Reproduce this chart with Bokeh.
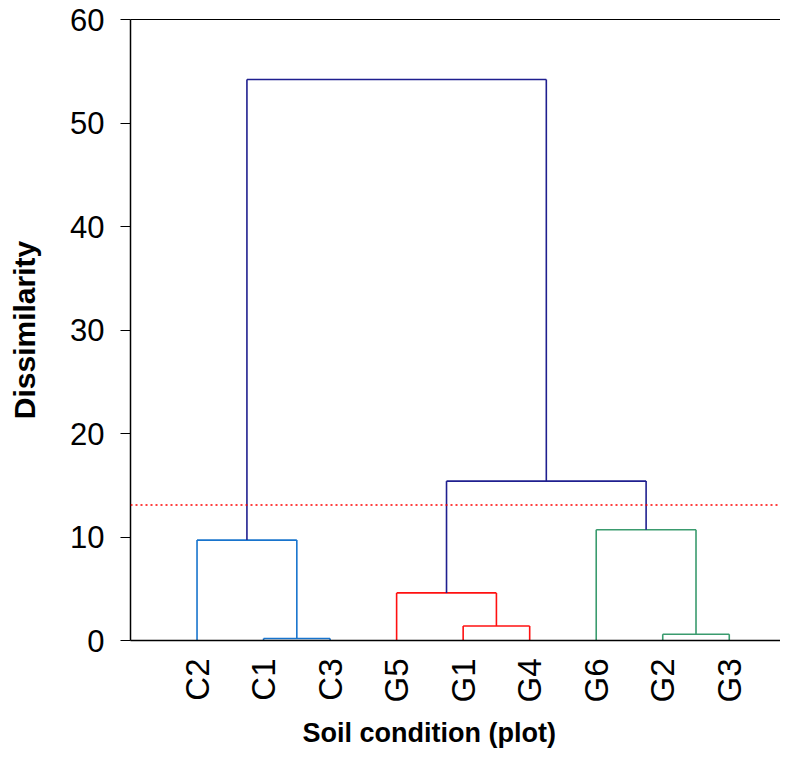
import math
from bokeh.plotting import figure
from bokeh.models import (ColumnDataSource, Range1d, FixedTicker, LinearAxis,
                          Span, Title)
from bokeh.embed import file_html
from bokeh.resources import INLINE

# ---- data ----
leaves = ["C2", "C1", "C3", "G5", "G1", "G4", "G6", "G2", "G3"]
merge_left = ["C1", "C2", "G1", "G5", "G2", "G6", "m3", "m1"]
merge_right = ["C3", "m0", "G4", "m2", "G3", "m4", "m5", "m6"]
merge_height = [0.2, 9.7, 1.4, 4.6, 0.6, 10.7, 15.4, 54.2]
merge_color = ["#1874CD", "#1874CD", "#FF1010", "#FF1010",
               "#3A9B6E", "#3A9B6E", "#1F1F8F", "#1F1F8F"]
cut_height = 13.1
y_ticks = [0, 10, 20, 30, 40, 50, 60]

# ---- compute dendrogram geometry ----
pos = {name: (i + 1, 0.0) for i, name in enumerate(leaves)}
x0, y0, x1, y1, col = [], [], [], [], []
for k, (a, b, h, c) in enumerate(zip(merge_left, merge_right, merge_height, merge_color)):
    xa, ha = pos[a]
    xb, hb = pos[b]
    x0 += [xa, xb, xa]
    y0 += [ha, hb, h]
    x1 += [xa, xb, xb]
    y1 += [h, h, h]
    col += [c, c, c]
    pos["m%d" % k] = ((xa + xb) / 2.0, h)

src = ColumnDataSource(dict(x0=x0, y0=y0, x1=x1, y1=y1, color=col))

p = figure(width=780, height=757, output_backend="svg", toolbar_location=None,
           x_range=Range1d(0, 9.77), y_range=Range1d(0, 60),
           min_border_left=130, min_border_right=0, min_border_top=19,
           min_border_bottom=115)
p.outline_line_color = None
p.grid.grid_line_color = None
p.background_fill_color = "white"

p.segment("x0", "y0", "x1", "y1", color="color", line_width=1.6, source=src)

p.add_layout(Span(location=cut_height, dimension="width", line_color="#FF0000",
                  line_dash="2 3", line_width=1.5))

font = "Liberation Sans"

# y axis
ya = p.yaxis[0]
ya.ticker = FixedTicker(ticks=y_ticks)
ya.major_tick_out = 10
ya.major_tick_in = 0
ya.minor_tick_line_color = None
ya.major_tick_line_width = 1.2
ya.axis_line_width = 1.5
ya.axis_line_color = "black"
ya.major_label_text_font = font
ya.major_label_text_font_size = "31px"
ya.major_label_text_color = "black"
ya.major_label_standoff = 16
ya.axis_label = "Dissimilarity"
ya.axis_label_text_font = font
ya.axis_label_text_font_style = "bold"
ya.axis_label_text_font_size = "30px"
ya.axis_label_text_color = "black"
ya.axis_label_standoff = 26

# x axis
xa = p.xaxis[0]
xa.ticker = FixedTicker(ticks=list(range(1, len(leaves) + 1)))
xa.major_label_overrides = {i + 1: n for i, n in enumerate(leaves)}
xa.major_label_orientation = math.pi / 2
xa.major_tick_line_color = None
xa.minor_tick_line_color = None
xa.axis_line_width = 1.5
xa.axis_line_color = "black"
xa.major_label_text_font = font
xa.major_label_text_font_size = "33px"
xa.major_label_text_color = "black"
xa.major_label_standoff = 12

# top border line
top = LinearAxis(ticker=FixedTicker(ticks=[]), major_tick_line_color=None,
                 minor_tick_line_color=None, axis_line_width=1.2,
                 axis_line_color="black")
p.add_layout(top, "above")

# x axis title (offset to match reference)
p.add_layout(Title(text="Soil condition (plot)", align="left", offset=172,
                   text_font=font, text_font_style="bold",
                   text_font_size="27px", text_color="black",
                   standoff=20), "below")

open("out.html", "w").write(file_html(p, INLINE))
